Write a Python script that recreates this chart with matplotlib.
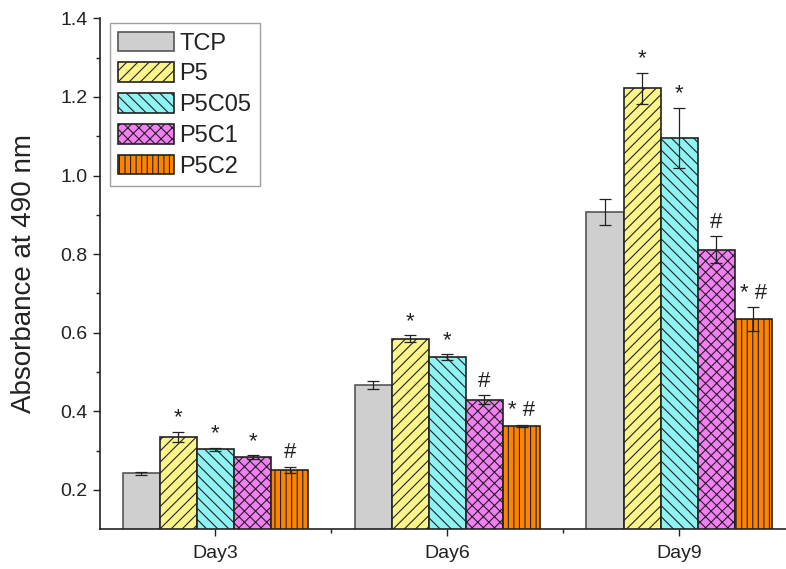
import numpy as np
import matplotlib
matplotlib.use("Agg")
import matplotlib.pyplot as plt

plt.rcParams['font.family'] = ['Liberation Sans', 'DejaVu Sans']
plt.rcParams['hatch.linewidth'] = 0.8

days = ["Day3", "Day6", "Day9"]
groups = ["TCP", "P5", "P5C05", "P5C1", "P5C2"]

tcp = [0.242, 0.467, 0.908]
p5 = [0.335, 0.585, 1.222]
p5c05 = [0.303, 0.538, 1.096]
p5c1 = [0.284, 0.430, 0.811]
p5c2 = [0.251, 0.363, 0.635]

tcp_err = [0.005, 0.010, 0.033]
p5_err = [0.013, 0.009, 0.040]
p5c05_err = [0.005, 0.007, 0.076]
p5c1_err = [0.004, 0.012, 0.034]
p5c2_err = [0.008, 0.003, 0.030]

tcp_sig = ["", "", ""]
p5_sig = ["*", "*", "*"]
p5c05_sig = ["*", "*", "*"]
p5c1_sig = ["*", "#", "#"]
p5c2_sig = ["#", "* #", "* #"]

values = [tcp, p5, p5c05, p5c1, p5c2]
errors = [tcp_err, p5_err, p5c05_err, p5c1_err, p5c2_err]
signs = [tcp_sig, p5_sig, p5c05_sig, p5c1_sig, p5c2_sig]

fills = ["#cfcfcf", "#fbf58a", "#8ff3f3", "#f47ef4", "#ff8200"]
edges = ["#555555", "#222222", "#222222", "#222222", "#222222"]
hatches = [None, "///", "\\\\\\", "xxx", "|||"]

fig = plt.figure(figsize=(7.86, 5.69), dpi=100)
ax = fig.add_axes([0.1266, 0.0698, 0.885, 0.898])

x = np.arange(1, len(days) + 1)
width = 0.16
for i, (vals, errs, sg) in enumerate(zip(values, errors, signs)):
    pos = x + (i - 2) * width
    ax.bar(pos, vals, width, bottom=0, color=fills[i], edgecolor=edges[i],
           hatch=hatches[i], linewidth=1.2, label=groups[i], zorder=2)
    ax.errorbar(pos, vals, yerr=errs, fmt="none", ecolor="#222222",
                elinewidth=0.9, capsize=4.3, capthick=0.9, zorder=3)
    for px, v, e, s in zip(pos, vals, errs, sg):
        if s:
            ax.annotate(s, (px, v + e), xytext=(0, 6), textcoords="offset points",
                        ha="center", va="baseline", fontsize=16, color="#222222")

ax.set_xlim(0.5, 3.5)
ax.set_ylim(0.1, 1.4)
ax.set_xticks(x)
ax.set_xticklabels(days)
ax.set_xticks([1.5, 2.5], minor=True)
ax.set_yticks([0.2, 0.4, 0.6, 0.8, 1.0, 1.2, 1.4])
ax.set_yticks(np.arange(0.3, 1.35, 0.2), minor=True)
ax.yaxis.set_major_formatter(matplotlib.ticker.FormatStrFormatter("%.1f"))

for side in ("top", "right"):
    ax.spines[side].set_visible(False)
for side in ("left", "bottom"):
    ax.spines[side].set_linewidth(1.2)
    ax.spines[side].set_color("#222222")

ax.tick_params(axis="both", which="major", length=5, width=1.0, color="#222222",
               labelsize=14, labelcolor="#222222", direction="out")
ax.tick_params(axis="x", which="major", pad=6)
ax.tick_params(axis="both", which="minor", length=3, width=1.0, color="#222222",
               direction="out")

ax.set_ylabel("Absorbance at 490 nm", fontsize=20, color="#222222")
ax.yaxis.set_label_coords(-0.09, 0.5)

leg = ax.legend(loc="upper left", bbox_to_anchor=(0.015, 0.99), fontsize=17,
                frameon=True, fancybox=False, edgecolor="#888888",
                handlelength=2.35, handleheight=0.9, labelspacing=0.33,
                handletextpad=0.25, borderpad=0.35, borderaxespad=0.0)
leg.get_frame().set_linewidth(1.0)
for t in leg.get_texts():
    t.set_color("#222222")

fig.savefig("out.png", dpi=100)
